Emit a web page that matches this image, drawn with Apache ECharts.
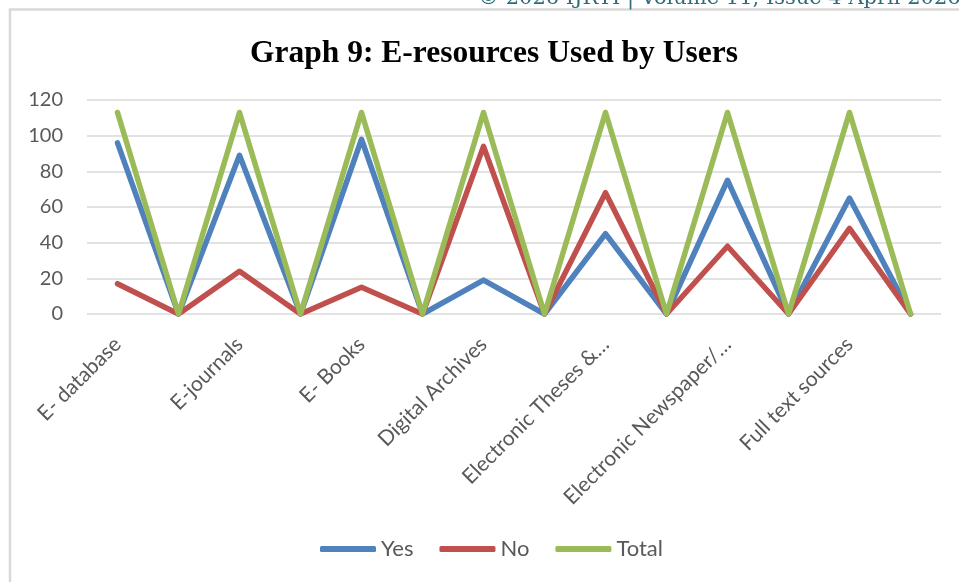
<!DOCTYPE html>
<html>
<head>
<meta charset="utf-8">
<script src="https://cdn.jsdelivr.net/npm/echarts@6/dist/echarts.min.js"></script>
<style>
  html, body { margin: 0; padding: 0; background: #fff; }
  #chart { width: 959px; height: 582px; }
</style>
</head>
<body>
<div id="chart"></div>
<script>
// categories, every second slot is an empty spacer in the original sheet
var categories = ['E- database', '', 'E-journals', '', 'E- Books', '', 'Digital Archives', '',
    'Electronic Theses &…', '', 'Electronic Newspaper/…', '', 'Full text sources', ''];
var yesData   = [96, 0, 89, 0, 98, 0, 19, 0, 45, 0, 75, 0, 65, 0];
var noData    = [17, 0, 24, 0, 15, 0, 94, 0, 68, 0, 38, 0, 48, 0];
var totalData = [113, 0, 113, 0, 113, 0, 113, 0, 113, 0, 113, 0, 113, 0];
var seriesNames = ['Yes', 'No', 'Total'];
var colors = ['#4F81BD', '#C0504D', '#9BBB59'];

var myChart = echarts.init(document.getElementById('chart'));

function makeLine(name, data) {
    return {
        name: name,
        type: 'line',
        data: data,
        symbol: 'none',
        lineStyle: { width: 5.5, cap: 'round', join: 'round' }
    };
}

var option = {
    color: colors,
    animation: false,
    textStyle: { fontFamily: 'Lato' },
    graphic: [
        {
            type: 'rect',
            shape: { x: 10, y: 9.5, width: 1000, height: 700 },
            style: { fill: 'none', stroke: '#d9d9d9', lineWidth: 2.5 }
        },
        {
            // page header of the journal, cut off by the crop
            type: 'text',
            left: 478,
            top: -12,
            style: {
                text: '© 2026 IJRTI | Volume 11, Issue 4 April 2026',
                font: '21px "DejaVu Serif"',
                fill: '#2f6b78'
            }
        }
    ],
    title: {
        text: 'Graph 9: E-resources Used by Users',
        left: 245,
        top: 33,
        textStyle: {
            fontFamily: 'Liberation Serif',
            fontWeight: 'bold',
            fontSize: 31.5,
            color: '#000'
        }
    },
    legend: {
        data: seriesNames,
        icon: 'roundRect',
        left: 315,
        top: 533,
        itemWidth: 56,
        itemHeight: 6,
        itemGap: 26,
        textStyle: { fontSize: 22, color: '#595959', fontFamily: 'Lato' }
    },
    grid: { left: 87, right: 18, top: 100, bottom: 268 },
    xAxis: {
        type: 'category',
        data: categories,
        boundaryGap: true,
        axisLine: { show: false },
        axisTick: { show: false },
        axisLabel: {
            interval: 0,
            rotate: 45,
            margin: 27,
            fontSize: 21,
            color: '#595959'
        }
    },
    yAxis: {
        type: 'value',
        min: 0,
        max: 120,
        interval: 20,
        axisLine: { show: false },
        axisTick: { show: false },
        axisLabel: { fontSize: 20, color: '#595959', margin: 24 },
        splitLine: { lineStyle: { color: '#d9d9d9', width: 1.5 } }
    },
    series: [
        makeLine(seriesNames[0], yesData),
        makeLine(seriesNames[1], noData),
        makeLine(seriesNames[2], totalData)
    ]
};

myChart.setOption(option);
</script>
</body>
</html>
